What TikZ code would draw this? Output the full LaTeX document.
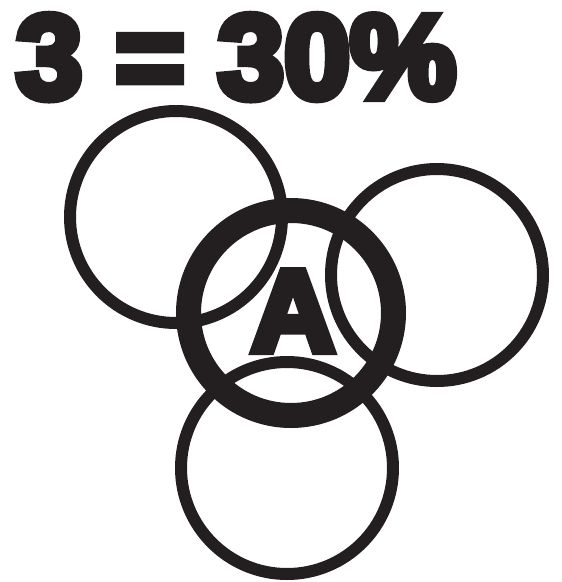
\documentclass[tikz,border=0pt]{standalone}
\usepackage{fontspec}
\newfontfamily\heavyfont{Liberation Sans Bold}[FakeBold=7]
\definecolor{ink}{HTML}{231F20}
\begin{document}
\begin{tikzpicture}[x=1pt,y=-1pt,
  ring/.style={circle, draw=ink, line width=12pt, minimum size=212pt, inner sep=0pt},
  bigring/.style={circle, draw=ink, line width=25pt, minimum size=205pt, inner sep=0pt},
  heavy/.style={text=ink, inner sep=0pt, font=\heavyfont\fontsize{119}{119}\selectfont}]
\useasboundingbox (0,0) rectangle (562,582);
\node[ring] (tl) at (176,217) {};
\node[ring] (r) at (437,275) {};
\node[ring] (b) at (287,468) {};
\node[bigring] (c) at (291,313) {};
\node[heavy, anchor=base west] (title) at (16,98) {3 = 30\%};
\node[heavy, font=\heavyfont\fontsize{116}{116}\selectfont, anchor=base] (a) at (293,351) {A};
\end{tikzpicture}
\end{document}
